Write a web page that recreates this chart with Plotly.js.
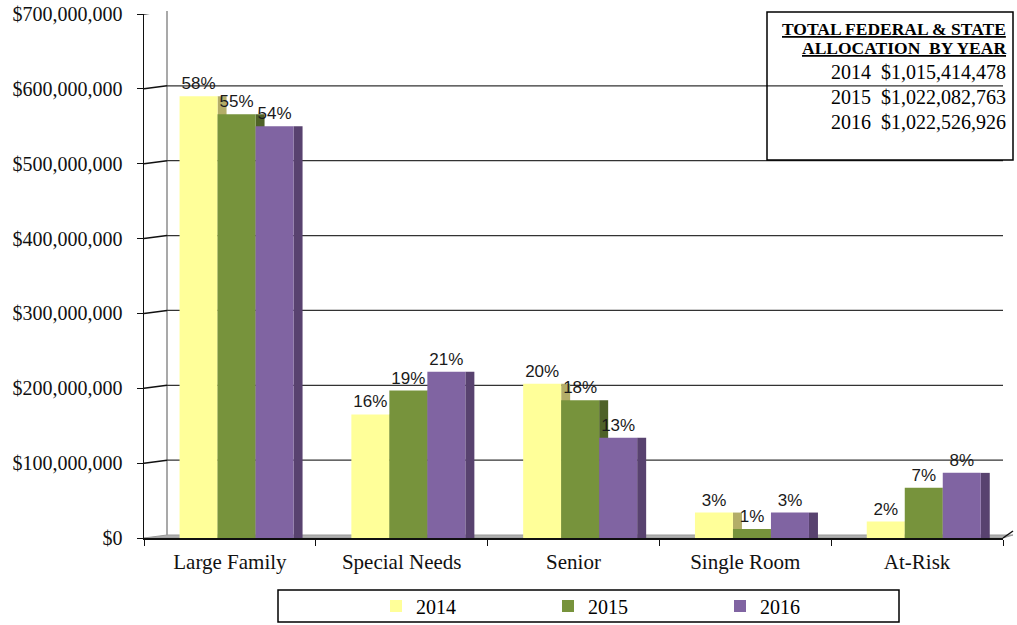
<!DOCTYPE html>
<html>
<head>
<meta charset="utf-8">
<script src="https://cdn.plot.ly/plotly-3.0.1.min.js"></script>
<style>html,body{margin:0;padding:0;background:#fff;}#chart{width:1017px;height:625px;}</style>
</head>
<body>
<div id="chart"></div>
<script>
// ---- data ----
const categories = ['Large Family', 'Special Needs', 'Senior', 'Single Room', 'At-Risk'];
const years = ['2014', '2015', '2016'];
const values2014 = [590e6, 165e6, 206e6, 34e6, 22e6];
const values2015 = [566e6, 197e6, 184e6, 12e6, 67e6];
const values2016 = [550e6, 222e6, 134e6, 34e6, 87e6];
const pct2014 = ['58%', '16%', '20%', '3%', '2%'];
const pct2015 = ['55%', '19%', '18%', '1%', '7%'];
const pct2016 = ['54%', '21%', '13%', '3%', '8%'];
const totalsByYear = ['$1,015,414,478', '$1,022,082,763', '$1,022,526,926'];
const boxHeading = ['TOTAL FEDERAL & STATE', 'ALLOCATION  BY YEAR'];
const yTickVals = [0, 100e6, 200e6, 300e6, 400e6, 500e6, 600e6, 700e6];
const yTickText = ['$0', '$100,000,000', '$200,000,000', '$300,000,000', '$400,000,000', '$500,000,000', '$600,000,000', '$700,000,000'];

// ---- styling ----
const frontColors = ['#FFFF99', '#77933C', '#8064A2'];
const sideColors = ['#B3AD68', '#4F6228', '#58426F'];
const L = 144, R = 1003, T = 14, B = 538, W = 1017, H = 625;
const px = x => (x - L) / (R - L);
const py = y => (B - y) / (B - T);
const catW = (R - L) / categories.length;
const frontW = 38 / catW, sideW = 9 / catW, startOff = -0.293;

const series = [values2014, values2015, values2016];
const pcts = [pct2014, pct2015, pct2016];
const traces = [];
series.forEach((vals, i) => {
  traces.push({
    type: 'bar', x: categories, y: vals, name: years[i] + ' side', showlegend: false,
    width: sideW, offset: startOff + (i + 1) * frontW,
    marker: {color: sideColors[i], line: {width: 0}}, hoverinfo: 'skip'
  });
});
series.forEach((vals, i) => {
  traces.push({
    type: 'bar', x: categories, y: vals, name: years[i],
    width: frontW, offset: startOff + i * frontW,
    marker: {color: frontColors[i], line: {width: 0}},
    text: pcts[i], textposition: 'outside', cliponaxis: false,
    textfont: {family: 'Liberation Sans, Arial, sans-serif', size: 17, color: '#1a1a1a'}
  });
});

const shapes = [];
// back wall vertical
shapes.push({type: 'line', xref: 'paper', yref: 'paper', x0: px(167), x1: px(167), y0: py(535), y1: py(11), line: {color: '#8c8c8c', width: 1.5}, layer: 'below'});
// gridlines on back wall + slanted connectors
yTickVals.forEach(v => {
  if (v === 0) return;
  shapes.push({type: 'line', xref: 'paper', yref: 'y', ysizemode: 'pixel', yanchor: v, y0: 3, y1: 3, x0: px(167), x1: 1, line: {color: '#333333', width: 1.2}, layer: 'below'});
  shapes.push({type: 'line', xref: 'paper', yref: 'y', ysizemode: 'pixel', yanchor: v, y0: 0, y1: 3, x0: 0, x1: px(167), line: {color: '#111111', width: 1.5}, layer: 'below'});
});
// floor
shapes.push({type: 'path', xref: 'paper', yref: 'paper', path: `M ${px(144)} ${py(538)} L ${px(167)} ${py(535)} L ${px(1013)} ${py(535)} L ${px(1003)} ${py(538)} Z`, fillcolor: '#b0b0b0', line: {color: '#9a9a9a', width: 1}, layer: 'below'});
shapes.push({type: 'line', xref: 'paper', yref: 'paper', x0: 1, x1: px(1013), y0: py(538), y1: py(531), line: {color: '#111', width: 1.5}});
// text box
shapes.push({type: 'rect', xref: 'paper', yref: 'paper', x0: px(767), x1: px(1013), y0: py(12), y1: py(160), line: {color: '#000', width: 1.5}, fillcolor: 'rgba(0,0,0,0)'});
// legend box
shapes.push({type: 'rect', xref: 'paper', yref: 'paper', x0: px(278), x1: px(899), y0: py(590), y1: py(622), line: {color: '#000', width: 1.5}, fillcolor: 'rgba(0,0,0,0)'});

const annotations = [];
const serif = 'Liberation Serif, Times New Roman, serif';
boxHeading.forEach((t, i) => {
  annotations.push({xref: 'paper', yref: 'paper', x: px(1008), y: py([29, 48][i]), xanchor: 'right', yanchor: 'middle', showarrow: false,
    text: '<b>' + t + '</b>', font: {family: serif, size: 17.5, color: '#000', lineposition: 'under'}});
});
years.forEach((yr, i) => {
  annotations.push({xref: 'paper', yref: 'paper', x: px(1008), y: py([72, 97, 122][i]), xanchor: 'right', yanchor: 'middle', showarrow: false,
    text: yr + '  ' + totalsByYear[i], font: {family: serif, size: 20, color: '#000'}});
});

const layout = {
  width: W, height: H,
  margin: {l: L, r: W - R, t: T, b: H - B, pad: 0, autoexpand: false},
  paper_bgcolor: '#fff', plot_bgcolor: 'rgba(0,0,0,0)',
  barmode: 'overlay', showlegend: true,
  font: {family: serif, color: '#000'},
  xaxis: {type: 'category', showline: true, linecolor: '#111', linewidth: 1.5, ticks: 'outside', tickson: 'boundaries', ticklen: 6, tickcolor: '#111', automargin: false,
    ticklabelstandoff: 4, showgrid: false, zeroline: false, tickfont: {family: serif, size: 21, color: '#111'}, range: [-0.5, 4.5], fixedrange: true},
  yaxis: {range: [0, 700e6], tickvals: yTickVals, ticktext: yTickText, showline: true, linecolor: '#111', linewidth: 1.5, ticks: 'outside', ticklen: 6, tickcolor: '#111', automargin: false,
    ticklabelstandoff: 10, showgrid: false, zeroline: false, tickfont: {family: serif, size: 20, color: '#111'}, fixedrange: true},
  legend: {orientation: 'h', x: px(376), xanchor: 'left', y: py(606), yanchor: 'middle', entrywidth: 127, entrywidthmode: 'pixels',
    font: {family: serif, size: 20, color: '#000'}, bgcolor: 'rgba(0,0,0,0)', borderwidth: 0, itemsizing: 'constant'},
  shapes: shapes, annotations: annotations
};

Plotly.newPlot('chart', traces, layout, {displayModeBar: false, staticPlot: true});
</script>
</body>
</html>
